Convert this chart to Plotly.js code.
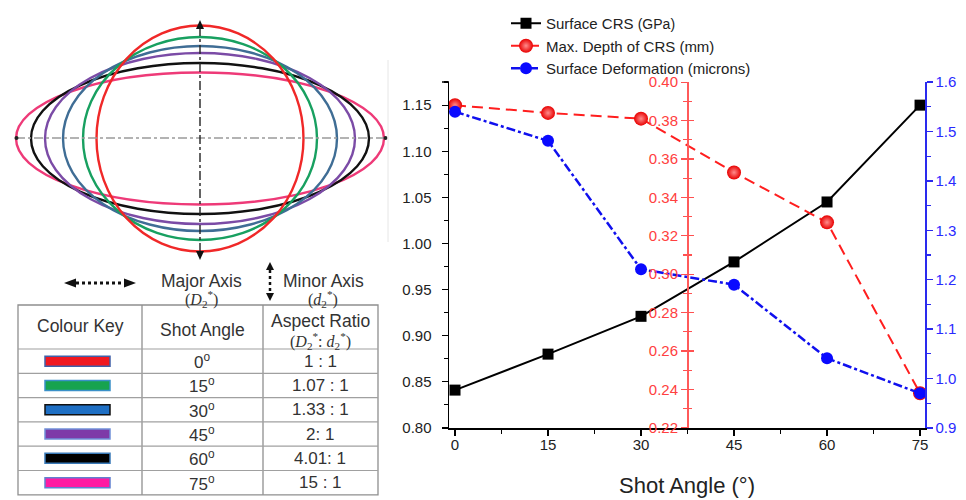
<!DOCTYPE html>
<html><head><meta charset="utf-8">
<script src="https://cdn.plot.ly/plotly-3.0.1.min.js"></script>
<style>html,body{margin:0;padding:0;background:#fff}#chart{width:966px;height:500px}</style>
</head><body><div id="chart"></div>
<script>
// ---- right chart data ----
const shotAngle = [0, 15, 30, 45, 60, 75];
const surfaceCRS = [0.841, 0.880, 0.921, 0.980, 1.045, 1.150];
const maxDepthCRS = [0.388, 0.384, 0.381, 0.353, 0.327, 0.238];
const surfaceDeformation = [1.540, 1.481, 1.221, 1.190, 1.041, 0.970];
const seriesNames = ['Surface CRS <span style="font-size:14px">(GPa)</span>', 'Max. Depth of CRS (mm)', 'Surface Deformation (microns)'];

// ---- left diagram / table data ----
const keyAngles = ['0', '15', '30', '45', '60', '75'];
const aspectRatios = ['1 : 1', '1.07 : 1', '1.33 : 1', '2: 1', '4.01: 1', '15 : 1'];
const keyColors = ['#f01820', '#17a34f', '#1e6fc4', '#7e3aa8', '#000000', '#ff1aa3'];
const keyBorders = ['#4060a8', '#3a90c8', '#111111', '#7090d8', '#3a7ab8', '#6080d0'];
const ellipseColors = ['#f02828', '#18a060', '#3f6d95', '#7b4ba6', '#111111', '#ee3a78'];
const ellipseHalfW = [103.5, 117, 137, 155, 169, 184];
const ellipseHalfH = [113, 101.5, 92.5, 85.5, 75.5, 66];

const W = 966, H = 500;
const FONT = 'Liberation Sans, Arial, sans-serif';

const traces = [
  {x: shotAngle, y: surfaceCRS, yaxis: 'y', name: seriesNames[0], mode: 'lines+markers',
   line: {color: '#000', width: 2}, marker: {symbol: 'square', size: 11, color: '#000'}},
  {x: shotAngle, y: maxDepthCRS, yaxis: 'y2', name: seriesNames[1], mode: 'lines+markers',
   line: {color: '#ff1e1e', width: 2, dash: '11px,6px'},
   marker: {symbol: 'circle', size: 14, color: '#e80000', gradient: {type: 'radial', color: '#ff8c8c'}, line: {width: 0}}},
  {x: shotAngle, y: surfaceDeformation, yaxis: 'y3', name: seriesNames[2], mode: 'lines+markers',
   line: {color: '#1010ee', width: 2.5, dash: 'dashdot'},
   marker: {symbol: 'circle', size: 12, color: '#0a0aff', line: {width: 0}}},
  {x: [], y: [], yaxis: 'y4', showlegend: false, hoverinfo: 'skip', mode: 'markers'},
  {x: [], y: [], xaxis: 'x2', yaxis: 'y5', showlegend: false, hoverinfo: 'skip', mode: 'markers'}
];

const shapes = [];
const annotations = [];
const P = {xref: 'x2', yref: 'y5'};

// ellipses
for (let i = ellipseColors.length - 1; i >= 0; i--) {
  shapes.push(Object.assign({type: 'circle', x0: 200 - ellipseHalfW[i], x1: 200 + ellipseHalfW[i],
    y0: 138.5 - ellipseHalfH[i], y1: 138.5 + ellipseHalfH[i], line: {color: ellipseColors[i], width: 2.4}}, P));
}
// diagram axes
shapes.push(Object.assign({type: 'line', x0: 16, x1: 386, y0: 138, y1: 138, line: {color: '#9a9a9a', width: 1.4, dash: 'dashdot'}}, P));
shapes.push(Object.assign({type: 'circle', x0: 14.5, x1: 18.5, y0: 136, y1: 140, fillcolor: '#222', line: {width: 0}}, P));
shapes.push(Object.assign({type: 'circle', x0: 383.5, x1: 387.5, y0: 136, y1: 140, fillcolor: '#222', line: {width: 0}}, P));
shapes.push(Object.assign({type: 'line', x0: 200, x1: 200, y0: 27, y1: 253, line: {color: '#222', width: 1.4, dash: 'dashdot'}}, P));
shapes.push(Object.assign({type: 'path', path: 'M 196 29 L 204 29 L 200 20 Z', fillcolor: '#111', line: {width: 0}}, P));
shapes.push(Object.assign({type: 'path', path: 'M 196 251 L 204 251 L 200 260 Z', fillcolor: '#111', line: {width: 0}}, P));
shapes.push(Object.assign({type: 'line', x0: 388, x1: 388, y0: 60, y1: 242, line: {color: '#e6e6e6', width: 1}}, P));
// major / minor axis arrows
shapes.push(Object.assign({type: 'line', x0: 76, x1: 124, y0: 283, y1: 283, line: {color: '#111', width: 3, dash: 'dot'}}, P));
shapes.push(Object.assign({type: 'path', path: 'M 64 283 L 76 278.5 L 76 287.5 Z', fillcolor: '#111', line: {width: 0}}, P));
shapes.push(Object.assign({type: 'path', path: 'M 136 283 L 124 278.5 L 124 287.5 Z', fillcolor: '#111', line: {width: 0}}, P));
shapes.push(Object.assign({type: 'line', x0: 270, x1: 270, y0: 270, y1: 293, line: {color: '#111', width: 2.5, dash: 'dot'}}, P));
shapes.push(Object.assign({type: 'path', path: 'M 270 262 L 266 270 L 274 270 Z', fillcolor: '#111', line: {width: 0}}, P));
shapes.push(Object.assign({type: 'path', path: 'M 270 301 L 266 293 L 274 293 Z', fillcolor: '#111', line: {width: 0}}, P));
// table
const tTop = 305, tHead = 349, rowH = 24.3, tLeft = 18, tRight = 378, c1 = 142, c2 = 263;
const tBottom = tHead + rowH * keyAngles.length;
shapes.push(Object.assign({type: 'rect', x0: tLeft, x1: tRight, y0: tTop, y1: tBottom, line: {color: '#8f8f8f', width: 1.3}}, P));
[c1, c2].forEach(c => shapes.push(Object.assign({type: 'line', x0: c, x1: c, y0: tTop, y1: tBottom, line: {color: '#8f8f8f', width: 1.3}}, P)));
for (let i = 0; i < keyAngles.length; i++) {
  const yTop = tHead + i * rowH, yc = yTop + rowH / 2;
  shapes.push(Object.assign({type: 'line', x0: tLeft, x1: tRight, y0: yTop, y1: yTop, line: {color: '#a0a0a0', width: 1.2}}, P));
  shapes.push(Object.assign({type: 'rect', x0: 45, x1: 110, y0: yc - 5, y1: yc + 5, fillcolor: keyColors[i], line: {color: keyBorders[i], width: 1.5}}, P));
  annotations.push(Object.assign({x: 202, y: yc, text: keyAngles[i] + '<sup>o</sup>', showarrow: false, font: {family: FONT, size: 17, color: '#333'}}, P));
  annotations.push(Object.assign({x: 320, y: yc, text: aspectRatios[i], showarrow: false, font: {family: FONT, size: 17, color: '#333'}}, P));
}
const txt = (x, y, t, opt) => annotations.push(Object.assign({x: x, y: y, text: t, showarrow: false,
  font: Object.assign({family: FONT, size: 17.5, color: '#333'}, opt || {})}, P));
txt(80, 326, 'Colour Key');
txt(202, 330, 'Shot Angle');
txt(320, 321, 'Aspect Ratio');
txt(320, 341, '(<i>D</i><sub>2</sub><sup>*</sup>: <i>d</i><sub>2</sub><sup>*</sup>)', {family: 'Liberation Serif, serif', size: 16});
txt(201, 281, 'Major Axis');
txt(201, 299, '(<i>D</i><sub>2</sub><sup>*</sup>)', {family: 'Liberation Serif, serif', size: 16});
txt(323, 281, 'Minor Axis');
txt(323, 299, '(<i>d</i><sub>2</sub><sup>*</sup>)', {family: 'Liberation Serif, serif', size: 16});

// axis end cap on left axis of right chart
const xd = [449 / W, 925 / W];
const yd = [(H - 428) / H, (H - 82) / H];
shapes.push({type: 'line', xref: 'paper', yref: 'paper', x0: 442 / W, x1: 449 / W, y0: yd[1], y1: yd[1], line: {color: '#000', width: 1.5}});

const layout = {
  width: W, height: H,
  margin: {l: 0, r: 0, t: 0, b: 0},
  paper_bgcolor: '#fff', plot_bgcolor: 'rgba(0,0,0,0)',
  font: {family: FONT, size: 15, color: '#222'},
  showlegend: true,
  legend: {x: 506 / W, y: 1 - 7 / H, xanchor: 'left', yanchor: 'top', bgcolor: 'rgba(0,0,0,0)',
           font: {family: FONT, size: 15, color: '#222'}, tracegroupgap: 0},
  xaxis: {domain: xd, anchor: 'y', range: [-0.97, 75.8], tickvals: shotAngle, ticks: 'outside', ticklen: 6, tickwidth: 1.3,
          minor: {dtick: 7.5, tick0: 0, ticks: 'outside', ticklen: 4, tickwidth: 1.2, tickcolor: '#000'},
          showline: true, linecolor: '#000', linewidth: 1.5, showgrid: false, zeroline: false, tickcolor: '#000',
          tickfont: {size: 15, color: '#222'}, ticklabelstandoff: -4,
          title: {text: 'Shot Angle (°)', font: {size: 22, color: '#222'}, standoff: 26}},
  yaxis: {domain: yd, anchor: 'x', range: [0.7999, 1.1751], dtick: 0.05, tick0: 0.8, tickformat: '.2f',
          ticks: 'outside', ticklen: 6, tickwidth: 1.3, tickcolor: '#000', ticklabelstandoff: 7,
          minor: {dtick: 0.025, ticks: 'outside', ticklen: 4, tickwidth: 1.2, tickcolor: '#000'},
          showline: true, linecolor: '#000', linewidth: 1.5, showgrid: false, zeroline: false,
          tickfont: {size: 15, color: '#222'}},
  yaxis2: {overlaying: 'y', anchor: 'free', position: 687 / W, side: 'left', range: [0.2199, 0.4001], dtick: 0.02, tick0: 0.22,
           tickformat: '.2f', ticks: 'outside', ticklen: 6, tickwidth: 1.3, tickcolor: '#ff5050',
           minor: {dtick: 0.01, ticks: 'outside', ticklen: 4, tickwidth: 1.2, tickcolor: '#ff5050'},
           showline: true, linecolor: '#ff5a5a', linewidth: 1.5, showgrid: false, zeroline: false,
           tickfont: {size: 15, color: '#ff4040'}},
  yaxis4: {overlaying: 'y', anchor: 'free', position: 687 / W, side: 'left', range: [0.2199, 0.4001], dtick: 0.02, tick0: 0.22,
           showticklabels: false, ticks: 'inside', ticklen: 6, tickwidth: 1.3, tickcolor: '#ff5050',
           minor: {dtick: 0.01, ticks: 'inside', ticklen: 4, tickwidth: 1.2, tickcolor: '#ff5050'},
           showline: false, showgrid: false, zeroline: false},
  yaxis3: {overlaying: 'y', anchor: 'x', side: 'right', range: [0.8999, 1.6001], dtick: 0.1, tick0: 0.9, tickformat: '.1f',
           ticks: 'outside', ticklen: 6, tickwidth: 1.3, tickcolor: '#2a2aee',
           minor: {dtick: 0.05, ticks: 'outside', ticklen: 4, tickwidth: 1.2, tickcolor: '#2a2aee'},
           showline: true, linecolor: '#2a2aee', linewidth: 1.5, showgrid: false, zeroline: false,
           tickfont: {size: 15, color: '#2a2aff'}},
  xaxis2: {domain: [0, 400 / W], anchor: 'y5', range: [0, 400], visible: false, fixedrange: true},
  yaxis5: {domain: [0, 1], anchor: 'x2', range: [500, 0], visible: false, fixedrange: true},
  shapes: shapes,
  annotations: annotations
};

Plotly.newPlot('chart', traces, layout, {displayModeBar: false, staticPlot: true});
</script>
</body></html>
